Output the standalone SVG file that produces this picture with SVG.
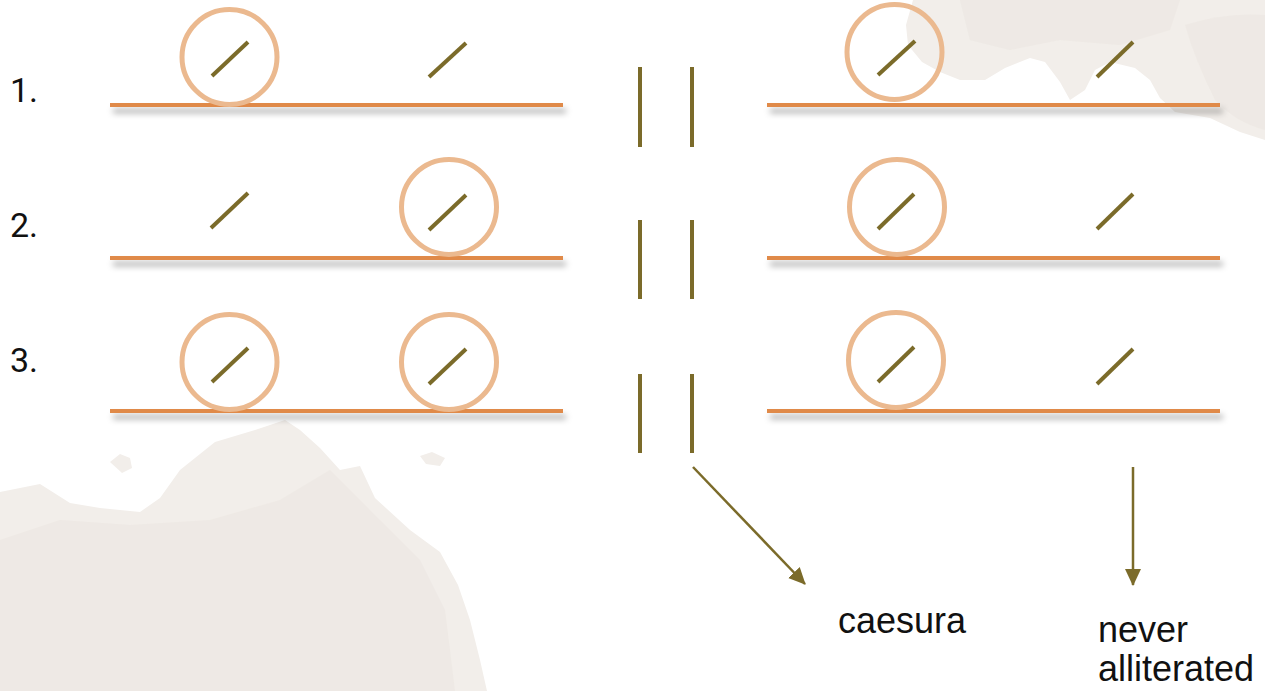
<svg xmlns="http://www.w3.org/2000/svg" width="1265" height="691" viewBox="0 0 1265 691">
  <defs>
    <filter id="shadow" filterUnits="userSpaceOnUse" x="0" y="0" width="1265" height="691">
      <feDropShadow dx="3" dy="6" stdDeviation="3" flood-color="#000" flood-opacity="0.35"/>
    </filter>
    <marker id="arrow" markerUnits="userSpaceOnUse" markerWidth="18" markerHeight="18" viewBox="0 0 18 18" refX="16" refY="9" orient="auto">
      <path d="M0,1 L17,9 L0,17 Z" fill="#7b6b2a"/>
    </marker>
  </defs>
  <style>
    .blot { fill: #f2eeea; }
    .blot2 { fill: #ebe5e0; opacity: 0.55; }
    .base { stroke: #e08a48; stroke-width: 4; fill: none; filter: url(#shadow); }
    .ring { stroke: #ebb98f; stroke-width: 5; fill: none; }
    .stress { stroke: #7b6b2a; stroke-width: 4; }
    .bar { stroke: #7b6b2a; stroke-width: 4; }
    .conn { stroke: #7b6b2a; stroke-width: 2.5; fill: none; marker-end: url(#arrow); }
    .num { font-family: Roboto, "Liberation Sans", sans-serif; font-size: 34px; fill: #111; }
    .lbl { font-family: "Liberation Sans", Arial, sans-serif; font-size: 36px; fill: #111; }
  </style>
  <rect width="1265" height="691" fill="#ffffff"/>

  <g id="background">
    <path class="blot" d="M913,0 L1265,0 L1265,140 L1240,132 L1210,118 L1175,112 L1160,98 L1150,80 L1135,68 L1110,62 L1095,70 L1085,90 L1070,100 L1060,82 L1045,62 L1030,58 L1005,68 L985,80 L960,80 L940,72 L922,62 L908,45 L906,25 Z"/>
    <path class="blot2" d="M960,0 L1180,0 L1170,30 L1120,45 L1060,40 L1010,50 L970,40 Z"/>
    <path class="blot2" d="M1185,25 Q1225,12 1265,15 L1265,130 Q1235,122 1215,100 Q1195,60 1185,25 Z"/>
    <path class="blot" d="M0,492 L40,484 L70,503 L100,508 L140,512 L160,498 L180,470 L215,442 L255,430 L285,420 L300,430 L320,448 L340,470 L360,466 L375,498 L410,530 L440,552 L458,585 L470,620 L480,660 L487,691 L0,691 Z"/>
    <path class="blot2" d="M0,540 L60,520 L130,525 L210,520 L280,500 L330,470 L380,520 L420,560 L445,610 L455,691 L0,691 Z"/>
    <path class="blot" d="M110,462 L120,454 L130,458 L132,468 L122,473 Z"/>
    <path class="blot" d="M420,456 L432,452 L445,458 L440,466 L426,464 Z"/>
  </g>

  <g id="labels">
    <text class="num" x="10" y="102">1.</text>
    <text class="num" x="10" y="237">2.</text>
    <text class="num" x="10" y="372">3.</text>
  </g>

  <g id="row1">
    <line class="base" x1="110" y1="105" x2="563" y2="105"/>
    <line class="base" x1="767" y1="105" x2="1220" y2="105"/>
    <circle class="ring" cx="229.5" cy="57" r="47.5"/>
    <line class="stress" x1="212" y1="76" x2="248" y2="42"/>
    <line class="stress" x1="429" y1="77" x2="466" y2="43"/>
    <circle class="ring" cx="894.5" cy="52" r="47.5"/>
    <line class="stress" x1="878" y1="75" x2="915" y2="41"/>
    <line class="stress" x1="1097" y1="77" x2="1133" y2="42"/>
  </g>

  <g id="row2">
    <line class="base" x1="110" y1="258" x2="563" y2="258"/>
    <line class="base" x1="767" y1="258" x2="1220" y2="258"/>
    <line class="stress" x1="211" y1="228" x2="248" y2="193"/>
    <circle class="ring" cx="449" cy="207" r="47.5"/>
    <line class="stress" x1="429" y1="230" x2="466" y2="195"/>
    <circle class="ring" cx="897" cy="207" r="47.5"/>
    <line class="stress" x1="878" y1="229" x2="914" y2="194"/>
    <line class="stress" x1="1097" y1="229" x2="1133" y2="194"/>
  </g>

  <g id="row3">
    <line class="base" x1="110" y1="411" x2="563" y2="411"/>
    <line class="base" x1="767" y1="411" x2="1220" y2="411"/>
    <circle class="ring" cx="229.5" cy="362" r="47.5"/>
    <line class="stress" x1="212" y1="382" x2="248" y2="348"/>
    <circle class="ring" cx="449" cy="362" r="47.5"/>
    <line class="stress" x1="429" y1="384" x2="466" y2="349"/>
    <circle class="ring" cx="896" cy="360" r="47.5"/>
    <line class="stress" x1="878" y1="382" x2="914" y2="347"/>
    <line class="stress" x1="1097" y1="384" x2="1133" y2="349"/>
  </g>

  <g id="caesura-bars">
    <line class="bar" x1="640" y1="67" x2="640" y2="147"/>
    <line class="bar" x1="692" y1="67" x2="692" y2="147"/>
    <line class="bar" x1="640" y1="220" x2="640" y2="299"/>
    <line class="bar" x1="692" y1="220" x2="692" y2="299"/>
    <line class="bar" x1="640" y1="374" x2="640" y2="453"/>
    <line class="bar" x1="692" y1="374" x2="692" y2="453"/>
  </g>

  <g id="connectors">
    <line class="conn" x1="693" y1="467" x2="805" y2="584"/>
    <line class="conn" x1="1133" y1="467" x2="1133" y2="585"/>
  </g>

  <g id="caesura">
    <text class="lbl" x="838" y="633">caesura</text>
  </g>
  <g id="never-alliterated">
    <text class="lbl" x="1098" y="642">never</text>
    <text class="lbl" x="1098" y="681">alliterated</text>
  </g>
</svg>
